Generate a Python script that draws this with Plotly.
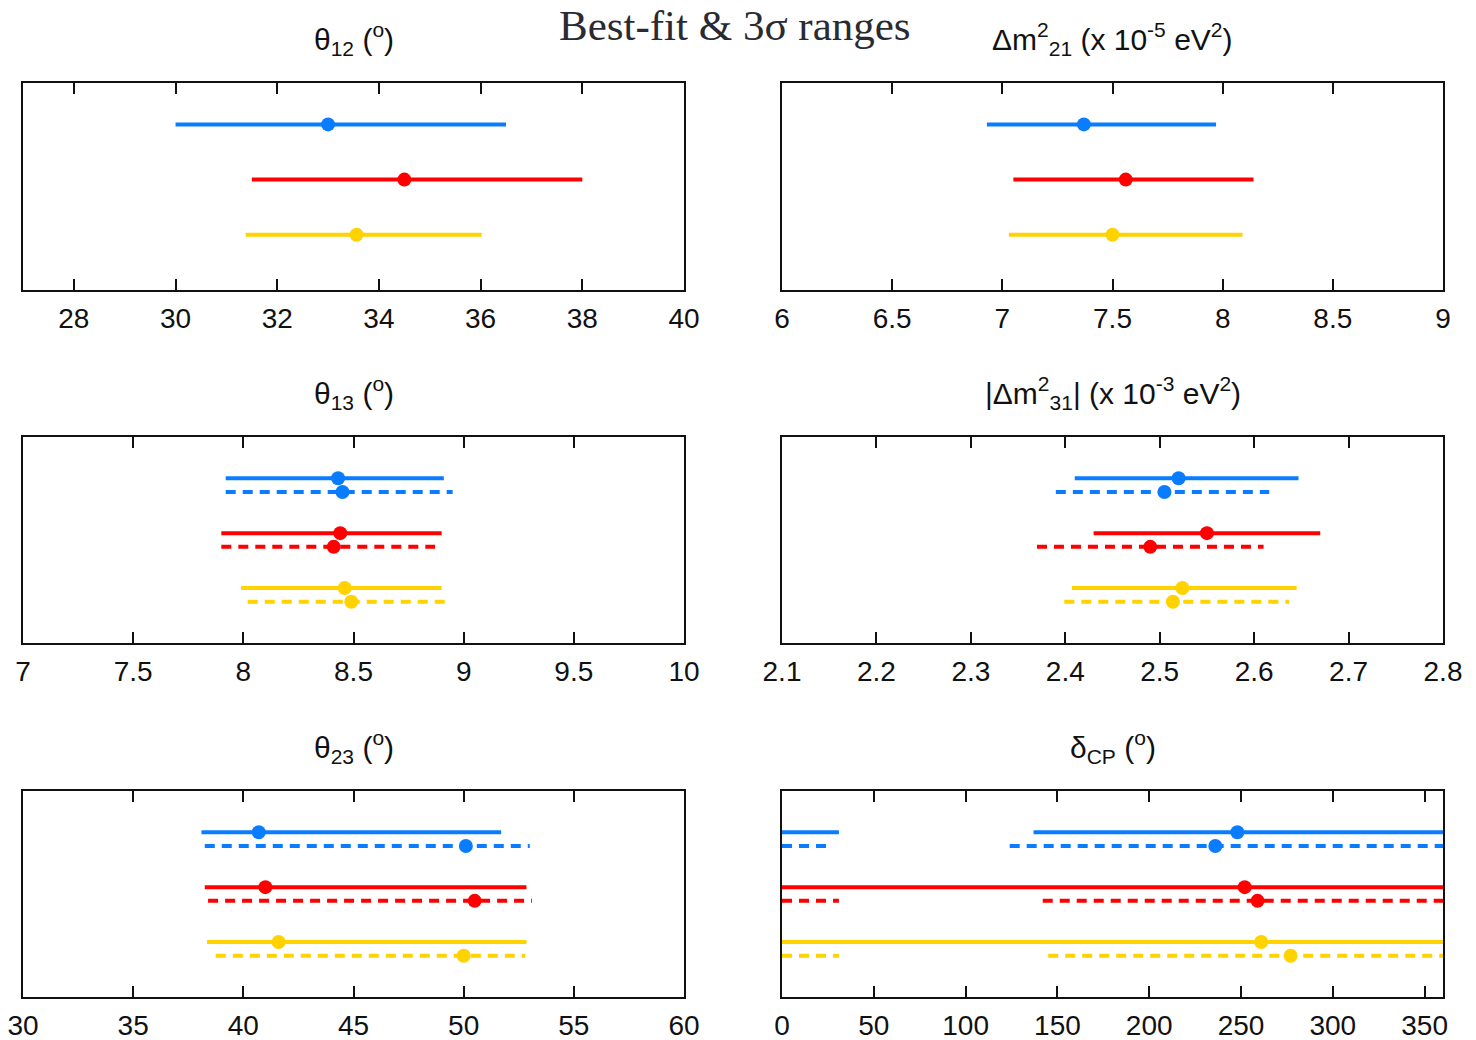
import plotly.graph_objects as go

# ---------------- data ----------------
fits = ["fit A", "fit B", "fit C"]  # blue, red, yellow

theta12_best = [33.0, 34.5, 33.56]
theta12_lo = [30.0, 31.5, 31.38]
theta12_hi = [36.5, 38.0, 36.02]

dm21_best = [7.37, 7.56, 7.50]
dm21_lo = [6.93, 7.05, 7.03]
dm21_hi = [7.97, 8.14, 8.09]

theta13_no_best = [8.43, 8.44, 8.46]
theta13_no_lo = [7.92, 7.90, 7.99]
theta13_no_hi = [8.91, 8.90, 8.90]
theta13_io_best = [8.45, 8.41, 8.49]
theta13_io_lo = [7.92, 7.90, 8.02]
theta13_io_hi = [8.95, 8.87, 8.92]

dm31_no_best = [2.52, 2.55, 2.524]
dm31_no_lo = [2.41, 2.43, 2.407]
dm31_no_hi = [2.647, 2.67, 2.645]
dm31_io_best = [2.505, 2.49, 2.514]
dm31_io_lo = [2.39, 2.37, 2.399]
dm31_io_hi = [2.616, 2.61, 2.637]

theta23_no_best = [40.7, 41.0, 41.6]
theta23_no_lo = [38.1, 38.25, 38.35]
theta23_no_hi = [51.7, 52.85, 52.85]
theta23_io_best = [50.1, 50.5, 50.0]
theta23_io_lo = [38.25, 38.4, 38.75]
theta23_io_hi = [53.0, 53.1, 52.8]

dcp_no_best = [248, 252, 261]
dcp_no_ranges = [[(0, 31), (137, 360)], [(0, 360)], [(0, 360)]]
dcp_io_best = [236, 259, 277]
dcp_io_ranges = [[(0, 27), (124, 360)], [(0, 31), (142, 360)], [(0, 31), (145, 360)]]

panel_titles = [
    "θ<sub>12</sub> (<sup>o</sup>)",
    "Δm<sup>2</sup><sub>21</sub> (x 10<sup>-5</sup> eV<sup>2</sup>)",
    "θ<sub>13</sub> (<sup>o</sup>)",
    "|Δm<sup>2</sup><sub>31</sub>| (x 10<sup>-3</sup> eV<sup>2</sup>)",
    "θ<sub>23</sub> (<sup>o</sup>)",
    "δ<sub>CP</sub> (<sup>o</sup>)",
]
x_ranges = [[27, 40], [6, 9], [7, 10], [2.1, 2.8], [30, 60], [0, 360]]
x_tickvals = [
    [28, 30, 32, 34, 36, 38, 40],
    [6, 6.5, 7, 7.5, 8, 8.5, 9],
    [7, 7.5, 8, 8.5, 9, 9.5, 10],
    [2.1, 2.2, 2.3, 2.4, 2.5, 2.6, 2.7, 2.8],
    [30, 35, 40, 45, 50, 55, 60],
    [0, 50, 100, 150, 200, 250, 300, 350],
]
main_title = "Best-fit & 3σ ranges"

# ---------------- styling / layout ----------------
COLORS = ["#0a7cff", "#ff0000", "#ffd200"]
Y_NO = [3, 2, 1]
Y_IO = [2.75, 1.75, 0.75]
W, H = 1476, 1040
col_px = [(23, 684), (782, 1443)]
row_px = [(83, 290), (437, 643), (791, 997)]
LINE_W = 4
MARKER_SIZE = 14
DASH = "10px,7px"
FONT = "Liberation Sans, Arial, sans-serif"

fig = go.Figure()


def add_series(idx, ranges_per_fit, best, yvals, dash):
    for i in range(3):
        xs, ys = [], []
        for lo, hi in ranges_per_fit[i]:
            xs += [lo, hi, None]
            ys += [yvals[i], yvals[i], None]
        fig.add_trace(go.Scatter(
            x=xs, y=ys, mode="lines", xaxis=f"x{idx}", yaxis=f"y{idx}",
            line=dict(color=COLORS[i], width=LINE_W, dash=dash),
            showlegend=False, hoverinfo="skip"))
        fig.add_trace(go.Scatter(
            x=[best[i]], y=[yvals[i]], mode="markers", xaxis=f"x{idx}", yaxis=f"y{idx}",
            marker=dict(color=COLORS[i], size=MARKER_SIZE),
            showlegend=False, name=fits[i]))


def pairs(lo, hi):
    return [[(a, b)] for a, b in zip(lo, hi)]


add_series(1, pairs(theta12_lo, theta12_hi), theta12_best, Y_NO, "solid")
add_series(2, pairs(dm21_lo, dm21_hi), dm21_best, Y_NO, "solid")
add_series(3, pairs(theta13_no_lo, theta13_no_hi), theta13_no_best, Y_NO, "solid")
add_series(3, pairs(theta13_io_lo, theta13_io_hi), theta13_io_best, Y_IO, DASH)
add_series(4, pairs(dm31_no_lo, dm31_no_hi), dm31_no_best, Y_NO, "solid")
add_series(4, pairs(dm31_io_lo, dm31_io_hi), dm31_io_best, Y_IO, DASH)
add_series(5, pairs(theta23_no_lo, theta23_no_hi), theta23_no_best, Y_NO, "solid")
add_series(5, pairs(theta23_io_lo, theta23_io_hi), theta23_io_best, Y_IO, DASH)
add_series(6, dcp_no_ranges, dcp_no_best, Y_NO, "solid")
add_series(6, dcp_io_ranges, dcp_io_best, Y_IO, DASH)

layout = dict(
    width=W, height=H, margin=dict(l=0, r=0, t=0, b=0, autoexpand=False),
    paper_bgcolor="white", plot_bgcolor="white", showlegend=False,
)
annotations = []
for k in range(6):
    idx = k + 1
    r, c = divmod(k, 2)
    x0, x1 = col_px[c]
    y0, y1 = row_px[r]
    xa = "xaxis" if idx == 1 else f"xaxis{idx}"
    ya = "yaxis" if idx == 1 else f"yaxis{idx}"
    layout[xa] = dict(
        domain=[x0 / W, x1 / W], anchor=f"y{idx}", range=x_ranges[k],
        tickvals=x_tickvals[k], ticks="inside", ticklen=11, tickwidth=2, tickcolor="#111",
        showline=True, linecolor="#111", linewidth=2, mirror="allticks",
        showgrid=False, zeroline=False, ticklabelstandoff=2, automargin=False,
        tickfont=dict(family=FONT, size=28, color="#111"),
    )
    layout[ya] = dict(
        domain=[1 - y1 / H, 1 - y0 / H], anchor=f"x{idx}", range=[0, 3.75],
        showticklabels=False, ticks="", showline=True, linecolor="#111", linewidth=2,
        mirror=True, showgrid=False, zeroline=False, automargin=False,
    )
    annotations.append(dict(
        text=panel_titles[k], xref="paper", yref="paper",
        x=(x0 + x1) / 2 / W, y=1 - (y0 - 44) / H, xanchor="center", yanchor="middle",
        showarrow=False, font=dict(family=FONT, size=30, color="#111"),
    ))
annotations.append(dict(
    text=main_title, xref="paper", yref="paper", x=735 / W, y=1 - 25 / H,
    xanchor="center", yanchor="middle", showarrow=False,
    font=dict(family="Liberation Serif, Times New Roman, serif", size=43, color="#2a2a33"),
))
layout["annotations"] = annotations
fig.update_layout(**layout)
fig.write_html("out.html")
